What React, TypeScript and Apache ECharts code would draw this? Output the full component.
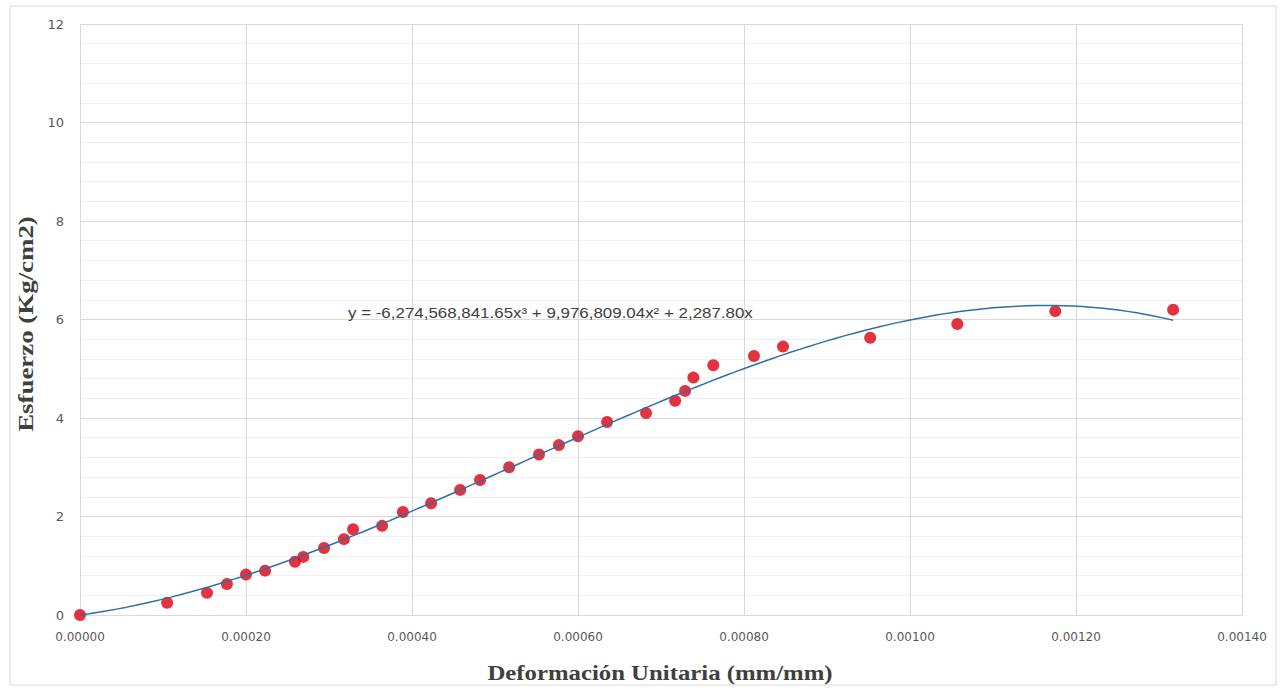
import React, { useEffect, useRef } from "react";
import * as echarts from "echarts";

const strainValues = [
  0, 0.000105, 0.000153, 0.000177, 0.0002, 0.000223, 0.000259, 0.000269, 0.000294, 0.000318,
  0.000329, 0.000364, 0.000389, 0.000423, 0.000458, 0.000482, 0.000517, 0.000553, 0.000577,
  0.0006, 0.000635, 0.000682, 0.000717, 0.000729, 0.000739, 0.000763, 0.000812, 0.000847,
  0.000952, 0.001057, 0.001175, 0.001317,
];
const stressValues = [
  0, 0.25, 0.45, 0.63, 0.82, 0.9, 1.08, 1.18, 1.36, 1.54, 1.74, 1.81, 2.09, 2.27, 2.54, 2.74,
  3.0, 3.26, 3.45, 3.63, 3.92, 4.1, 4.35, 4.55, 4.82, 5.07, 5.26, 5.45, 5.63, 5.91, 6.17, 6.2,
];
// Trendline coefficients as printed on the chart
const coefA3 = -6274568841.65;
const coefA2 = 9976809.04;
const coefA1 = 2287.8;
const equationLabel = "y = -6,274,568,841.65x³ + 9,976,809.04x² + 2,287.80x";
const xTitle = "Deformación Unitaria (mm/mm)";
const yTitle = "Esfuerzo (Kg/cm2)";

export default function App() {
  const ref = useRef<HTMLDivElement>(null);
  useEffect(() => {
    if (!ref.current) return;
    const chart = echarts.init(ref.current, undefined, { renderer: "svg" });
    const xMax = strainValues[strainValues.length - 1];
    const trend: number[][] = [];
    const steps = 120;
    for (let i = 0; i <= steps; i++) {
      const x = (xMax * i) / steps;
      trend.push([x, coefA3 * x * x * x + coefA2 * x * x + coefA1 * x]);
    }
    const points = strainValues.map((x, i) => [x, stressValues[i]]);
    const titleStyle = {
      fontFamily: "Liberation Serif",
      fontWeight: "bold",
      fontSize: 21,
      fill: "#404040",
      align: "center",
      verticalAlign: "middle",
    };
    chart.setOption({
      animation: false,
      backgroundColor: "#ffffff",
      grid: { left: 80, right: 46, top: 24, bottom: 76, containLabel: false },
      xAxis: {
        type: "value",
        min: 0,
        max: 0.0014,
        interval: 0.0002,
        axisLine: { show: true, lineStyle: { color: "#d9d9d9" } },
        axisTick: { show: false },
        axisLabel: {
          formatter: (v: number) => v.toFixed(5),
          fontFamily: "DejaVu Sans",
          fontSize: 12,
          color: "#595959",
          margin: 16,
        },
        splitLine: { show: true, lineStyle: { color: "#d9d9d9" } },
      },
      yAxis: {
        type: "value",
        min: 0,
        max: 12,
        interval: 2,
        axisLine: { show: true, lineStyle: { color: "#d9d9d9" } },
        axisTick: { show: false },
        axisLabel: { fontFamily: "DejaVu Sans", fontSize: 13, color: "#595959", margin: 16 },
        splitLine: { show: true, lineStyle: { color: "#d9d9d9" } },
        minorTick: { show: false, splitNumber: 5 },
        minorSplitLine: { show: true, lineStyle: { color: "#f0f0f0" } },
      },
      graphic: [
        {
          type: "rect",
          shape: { x: 10, y: 6, width: 1266, height: 679 },
          style: { fill: "none", stroke: "#d9d9d9", lineWidth: 1 },
          silent: true,
        },
        {
          type: "text",
          x: 348,
          y: 313,
          scaleX: 1.21,
          style: {
            text: equationLabel,
            fontFamily: "Liberation Sans",
            fontSize: 14,
            fill: "#404040",
            verticalAlign: "middle",
          },
          z: 10,
        },
        {
          type: "text",
          x: 660,
          y: 673,
          scaleX: 1.18,
          style: { ...titleStyle, text: xTitle },
        },
        {
          type: "text",
          x: 26,
          y: 324,
          rotation: Math.PI / 2,
          scaleX: 1.28,
          style: { ...titleStyle, text: yTitle },
        },
      ],
      series: [
        {
          type: "scatter",
          data: points,
          symbol: "circle",
          symbolSize: 12,
          itemStyle: { color: "#dc0012" },
          z: 2,
        },
        {
          type: "line",
          data: trend,
          showSymbol: false,
          symbol: "none",
          smooth: false,
          lineStyle: { color: "#2e6fa8", width: 1.5 },
          z: 3,
        },
      ],
    });
    return () => chart.dispose();
  }, []);
  return (
    <div
      ref={ref}
      style={{ position: "fixed", left: 0, top: 0, width: 1288, height: 691 }}
    />
  );
}
